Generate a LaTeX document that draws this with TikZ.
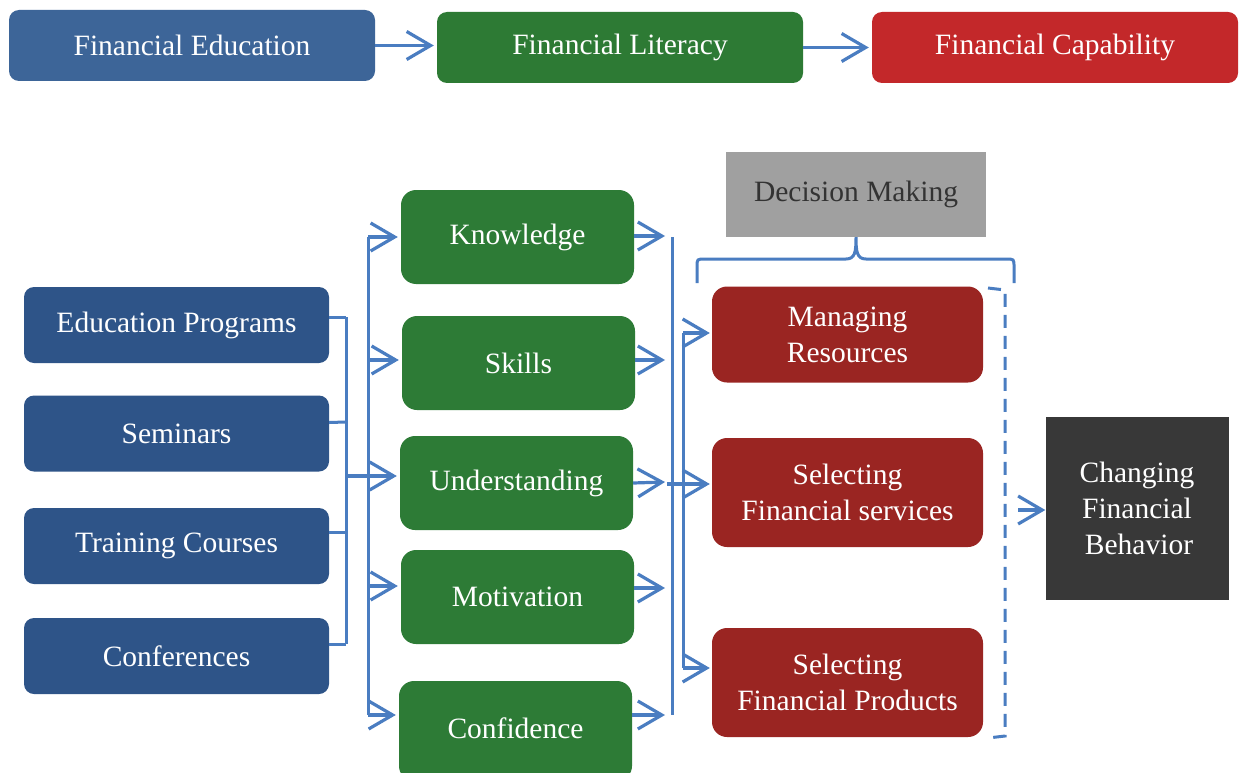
\documentclass[tikz,border=0pt]{standalone}
\usepackage{fontspec}
\setmainfont{Liberation Serif}
\usetikzlibrary{arrows.meta}
\definecolor{topblue}{HTML}{3D6598}
\definecolor{topgreen}{HTML}{2D7A34}
\definecolor{topred}{HTML}{C3282A}
\definecolor{lblue}{HTML}{2E5488}
\definecolor{gbox}{HTML}{2D7B36}
\definecolor{dred}{HTML}{9A2522}
\definecolor{gbx}{HTML}{A0A0A0}
\definecolor{dbox}{HTML}{383838}
\definecolor{lnblue}{HTML}{4A7DC1}
\definecolor{dtext}{HTML}{333333}
\begin{document}
\begin{tikzpicture}[x=1pt,y=-1pt,
  box/.style={rounded corners=10pt, text=white, align=center, inner sep=0pt,
    font=\fontsize{29.5}{36}\selectfont},
  rbox/.style={box, rounded corners=15pt},
  arr/.style={-{Straight Barb[length=24pt,width=28pt]}, lnblue, line width=3.2pt},
  ln/.style={lnblue, line width=3pt}]
\useasboundingbox (0,0) rectangle (1244,773);
\clip (0,0) rectangle (1244,773);
\fill[white] (0,0) rectangle (1244,773);

% top row
\node[box, fill=topblue, minimum width=366pt, minimum height=71pt] (fe) at (192,45.5) {Financial Education};
\node[box, fill=topgreen, minimum width=366pt, minimum height=71pt] (fl) at (620,47.5) {Financial Literacy};
\node[box, fill=topred, minimum width=366pt, minimum height=71pt] (fc) at (1055,47.5) {Financial Capability};
\draw[arr, shorten >=3pt] (fe.east) -- (fe.east -| fl.west);
\draw[arr, shorten >=3pt] (fl.east) -- (fl.east -| fc.west);

% left column
\node[rbox, rounded corners=10pt, fill=lblue, minimum width=305pt, minimum height=76pt] (ep) at (176.5,325) {Education Programs};
\node[rbox, rounded corners=10pt, fill=lblue, minimum width=305pt, minimum height=76pt] (se) at (176.5,433.5) {Seminars};
\node[rbox, rounded corners=10pt, fill=lblue, minimum width=305pt, minimum height=76pt] (tc) at (176.5,546) {Training Courses};
\node[rbox, rounded corners=10pt, fill=lblue, minimum width=305pt, minimum height=76pt] (co) at (176.5,656) {Conferences};

% green column
\node[rbox, fill=gbox, minimum width=233pt, minimum height=94pt] (kn) at (517.5,237) {Knowledge};
\node[rbox, fill=gbox, minimum width=233pt, minimum height=94pt] (sk) at (518.5,363) {Skills};
\node[rbox, fill=gbox, minimum width=233pt, minimum height=94pt] (un) at (516.5,483) {Understanding};
\node[rbox, fill=gbox, minimum width=233pt, minimum height=94pt] (mo) at (517.5,597) {Motivation};
\node[rbox, fill=gbox, minimum width=233pt, minimum height=100pt] (cf) at (515.5,731) {\raisebox{6pt}{Confidence}};

% red column
\node[rbox, fill=dred, minimum width=271pt, minimum height=96pt] (mr) at (847.5,334.5) {Managing\\Resources};
\node[rbox, fill=dred, minimum width=271pt, minimum height=109pt] (sfs) at (847.5,492.5) {Selecting\\Financial services};
\node[rbox, fill=dred, minimum width=271pt, minimum height=109pt] (sfp) at (847.5,682.5) {Selecting\\Financial Products};

% decision making
\node[fill=gbx, text=dtext, inner sep=0pt, minimum width=260pt, minimum height=85pt,
  font=\fontsize{29.5}{36}\selectfont] (dm) at (856,194.5) {Decision Making};

% changing financial behavior
\node[fill=dbox, text=white, align=center, inner sep=0pt, minimum width=183pt, minimum height=183pt,
  font=\fontsize{29.5}{36}\selectfont] (cb) at (1137,508.5) {Changing\\Financial\\\hspace*{4pt}Behavior};

% left bus
\coordinate (b1t) at (346,317);
\coordinate (b1b) at (346,644);
\draw[ln] ([yshift=8pt]ep.east) -- (b1t);
\draw[ln] ([yshift=11pt]se.east) -- (346,422);
\draw[ln] ([yshift=14pt]tc.east) -- (346,532);
\draw[ln] ([yshift=12pt]co.east) -- (b1b);
\draw[ln] (b1t) -- (b1b);
\coordinate (b1m) at (346,476);

% second bus
\coordinate (b2t) at (368,237);
\coordinate (b2b) at (368,715);
\draw[ln] (b2t) -- (b2b);
\draw[arr, shorten >=3pt] (b1m) -- (b1m -| un.west);
\draw[arr, shorten >=3pt] (b2t) -- (b2t -| kn.west);
\draw[arr, shorten >=3pt] (368,360) -- (sk.west |- 0,360);
\draw[arr, shorten >=3pt] (368,586) -- (mo.west |- 0,586);
\draw[arr, shorten >=3pt] (b2b) -- (b2b -| cf.west);

% right buses
\coordinate (b3t) at (672,237);
\coordinate (b3b) at (672,715);
\draw[ln] (b3t) -- (b3b);
\draw[arr] ([yshift=1pt]kn.east) -- (665,236);
\draw[arr] ([yshift=3pt]sk.east) -- (665,360);
\draw[arr] (un.east) -- (665,482);
\draw[arr] ([yshift=9pt]mo.east) -- (665,588);
\draw[arr] (cf.east |- 0,715) -- (665,715);

\coordinate (b4t) at (683,333);
\coordinate (b4b) at (683,668);
\draw[ln] (b4t) -- (b4b);
\draw[arr, shorten >=2pt] (b4t) -- (b4t -| mr.west);
\draw[arr, shorten >=2pt] (667,484) -- (sfs.west |- 0,484);
\draw[arr, shorten >=2pt] (b4b) -- (b4b -| sfp.west);

% brace under decision making
\draw[ln] (697,283) -- (697,267) .. controls (697,259) .. (705,259) -- (846,259)
  .. controls (855,259) and (856,252) .. (dm.south)
  .. controls (856,252) and (857,259) .. (866,259) -- (1006,259)
  .. controls (1014,259) .. (1014,267) -- (1014,283);

% dashed bracket
\draw[ln, dash pattern=on 13pt off 8pt] (988,288) -- (1005,290) -- (1005,736) -- (988,738);
\coordinate (dsh) at (1018,510);
\draw[arr] (dsh) -- (cb.west |- dsh);
\end{tikzpicture}
\end{document}
